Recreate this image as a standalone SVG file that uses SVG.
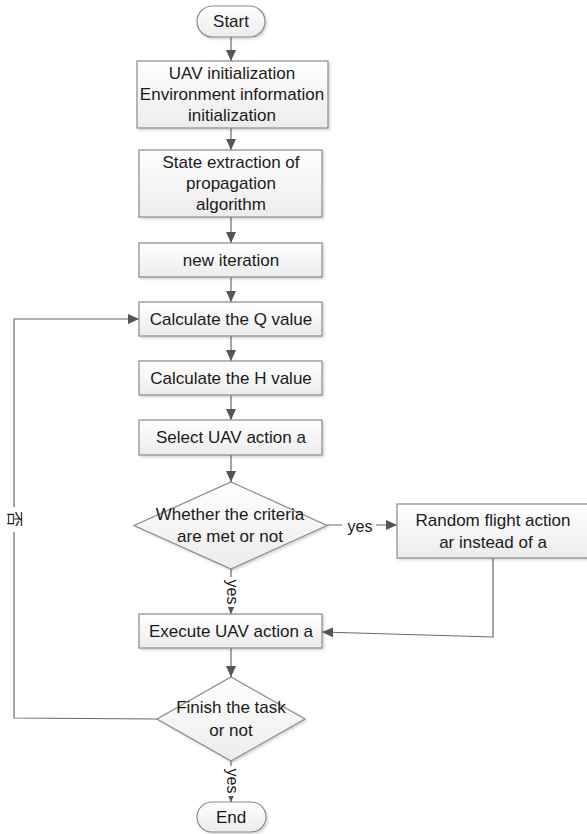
<svg xmlns="http://www.w3.org/2000/svg" width="587" height="834" viewBox="0 0 587 834">
<defs>
<linearGradient id="g" x1="0" y1="0" x2="0" y2="1">
<stop offset="0" stop-color="#ffffff"/>
<stop offset="1" stop-color="#ececec"/>
</linearGradient>
<filter id="sh" x="-10%" y="-10%" width="130%" height="140%">
<feDropShadow dx="1.5" dy="1.5" stdDeviation="1" flood-color="#000" flood-opacity="0.18"/>
</filter>
<marker id="ah" markerWidth="12" markerHeight="10" refX="11" refY="5" orient="auto" markerUnits="userSpaceOnUse">
<path d="M0,0 L11,5 L0,10 Z" fill="#555"/>
</marker>
</defs>
<style>
.n{fill:url(#g);stroke:#8a8a8a;stroke-width:1.2;filter:url(#sh)}
.t{font-family:"Liberation Sans",Arial,sans-serif;font-size:17px;fill:#1a1a1a;text-anchor:middle}
.l{font-family:"Liberation Sans",Arial,sans-serif;font-size:16px;fill:#1a1a1a;text-anchor:middle}
.c{fill:none;stroke:#6a6a6a;stroke-width:1.2}
.a{marker-end:url(#ah)}
</style>
<rect width="587" height="834" fill="#fff"/>
<g id="connectors">
<line class="c a" x1="231" y1="37" x2="231" y2="61"/>
<line class="c a" x1="231" y1="128" x2="231" y2="150"/>
<line class="c a" x1="231" y1="217" x2="231" y2="243"/>
<line class="c a" x1="231" y1="277" x2="231" y2="302"/>
<line class="c a" x1="231" y1="336" x2="231" y2="361"/>
<line class="c a" x1="231" y1="395" x2="231" y2="420"/>
<line class="c a" x1="231" y1="455" x2="231" y2="482"/>
<line class="c a" x1="231" y1="569" x2="231" y2="614"/>
<line class="c a" x1="327" y1="525" x2="397" y2="525"/>
<polyline class="c a" points="493,558 493,637 322,632"/>
<line class="c a" x1="231" y1="648" x2="231" y2="677"/>
<polyline class="c a" points="157,719 14,718 14,319 139,319"/>
<line class="c a" x1="231" y1="761" x2="231" y2="802"/>
<rect x="5" y="507" width="18" height="25" fill="#fff"/>
<text font-family="'Noto Sans CJK SC',sans-serif" font-size="16" fill="#1a1a1a" text-anchor="middle" transform="translate(15,519) rotate(90)" dy="6">否</text>
<rect x="342" y="517" width="34" height="16" fill="#fff"/>
<text class="l" x="360" y="532">yes</text>
<rect x="224" y="577" width="14" height="30" fill="#fff"/>
<text class="l" transform="translate(231,592) rotate(90)" dy="4">yes</text>
<rect x="224" y="766" width="14" height="30" fill="#fff"/>
<text class="l" transform="translate(231,781) rotate(90)" dy="4">yes</text>
</g>
<g id="start"><rect class="n" x="197" y="6" width="68" height="31" rx="15.5"/><text class="t" x="231" y="27">Start</text></g>
<g id="init"><rect class="n" x="137" y="61" width="191" height="67"/><text class="t" x="232" y="79">UAV initialization</text><text class="t" x="232" y="100">Environment information</text><text class="t" x="232" y="121">initialization</text></g>
<g id="state"><rect class="n" x="139" y="150" width="183" height="67"/><text class="t" x="231" y="168">State extraction of</text><text class="t" x="231" y="189">propagation</text><text class="t" x="231" y="210">algorithm</text></g>
<g id="iter"><rect class="n" x="139" y="243" width="183" height="34"/><text class="t" x="231" y="266">new iteration</text></g>
<g id="q"><rect class="n" x="139" y="302" width="183" height="34"/><text class="t" x="231" y="325">Calculate the Q value</text></g>
<g id="h"><rect class="n" x="139" y="361" width="183" height="34"/><text class="t" x="231" y="384">Calculate the H value</text></g>
<g id="select"><rect class="n" x="139" y="420" width="183" height="35"/><text class="t" x="231" y="443">Select UAV action a</text></g>
<g id="criteria"><polygon class="n" points="231,482 327,525.5 231,569 134,525.5"/><text class="t" x="230" y="520">Whether the criteria</text><text class="t" x="230" y="542">are met or not</text></g>
<g id="random"><rect class="n" x="397" y="504" width="192" height="54"/><text class="t" x="493" y="526">Random flight action</text><text class="t" x="493" y="548">ar instead of a</text></g>
<g id="execute"><rect class="n" x="139" y="614" width="183" height="34"/><text class="t" x="231" y="637">Execute UAV action a</text></g>
<g id="finish"><polygon class="n" points="231,677 305,719 231,761 157,719"/><text class="t" x="231" y="713">Finish the task</text><text class="t" x="231" y="736">or not</text></g>
<g id="end"><rect class="n" x="197" y="802" width="69" height="30" rx="15"/><text class="t" x="231" y="823">End</text></g>
</svg>
